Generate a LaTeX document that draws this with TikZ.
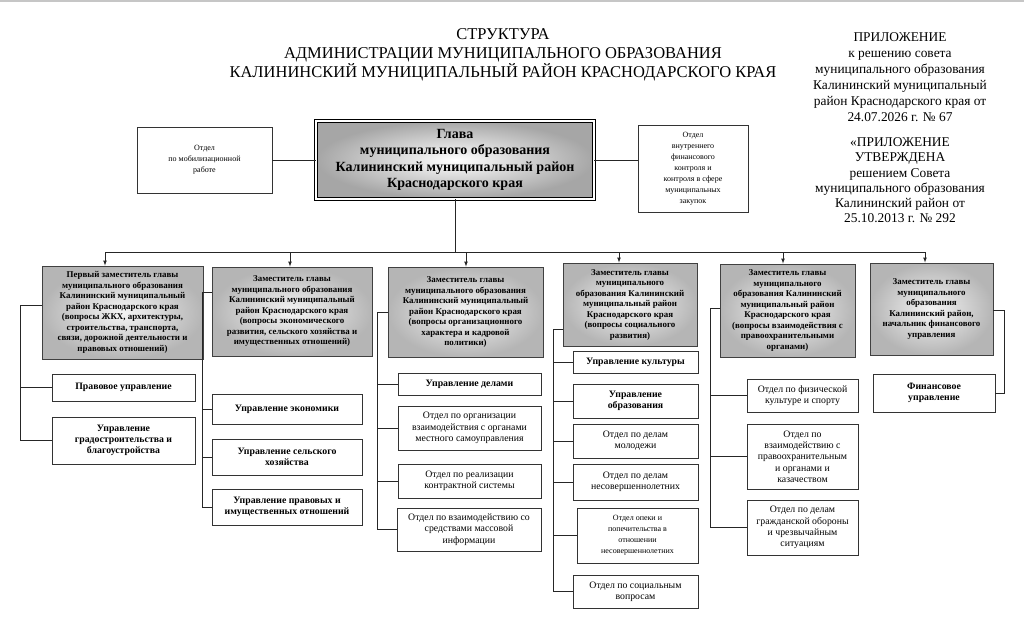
\documentclass[tikz,border=0pt]{standalone}
\usepackage{fontspec}
\setmainfont{Liberation Serif}
\usetikzlibrary{positioning}
\usetikzlibrary{shadows}

\begin{document}
\begin{tikzpicture}[x=1pt, y=-1pt,
  glava/.style={draw=black, line width=0.8pt, double=white, double distance=1.6pt, inner color=white, outer color=gray!70, align=center, font=\bfseries\fontsize{14}{16.5}\selectfont},
  zam/.style={draw=black!75, line width=0.9pt, inner color=gray!8, outer color=gray!58, drop shadow={shadow xshift=1.2pt, shadow yshift=-1.2pt, fill=gray!80, opacity=0.6}, align=center, font=\bfseries\fontsize{8.9}{10.5}\selectfont},
  upr/.style={draw=black!80, line width=0.8pt, fill=white, align=center, font=\bfseries\fontsize{9.8}{11.2}\selectfont},
  otd/.style={draw=black!80, line width=0.8pt, fill=white, align=center, font=\fontsize{9.8}{11.3}\selectfont},
  melk/.style={draw=black!80, line width=0.7pt, fill=white, align=center, font=\fontsize{8}{11}\selectfont},
  sz/.style 2 args={minimum width=#1pt, minimum height=#2pt, inner sep=1pt},
  link/.style={black!85, line width=0.7pt},
  strelka/.style={link, -latex}
]
\useasboundingbox (0,0) rectangle (1024,636);
\draw[gray!45, line width=2pt] (0,1) -- (1024,1);

% header
{
\node[anchor=north, align=center, font=\fontsize{16.5}{18.8}\selectfont] (zagolovok) at (503,25)
{СТРУКТУРА\\АДМИНИСТРАЦИИ МУНИЦИПАЛЬНОГО ОБРАЗОВАНИЯ\\КАЛИНИНСКИЙ МУНИЦИПАЛЬНЫЙ РАЙОН КРАСНОДАРСКОГО КРАЯ};

\node[anchor=north, align=center, font=\fontsize{13.4}{16}\selectfont] (prilozh) at (900,29)
{ПРИЛОЖЕНИЕ\\к решению совета\\муниципального образования\\Калининский муниципальный\\район Краснодарского края от\\24.07.2026 г. № 67};

\node[anchor=north, align=center, font=\fontsize{13.4}{15.3}\selectfont] (utverzh) at (900,134)
{«ПРИЛОЖЕНИЕ\\УТВЕРЖДЕНА\\решением Совета\\муниципального образования\\Калининский район от\\25.10.2013 г. № 292};
}

% top row
{
\node[melk, sz={135}{66}] (mob) at (204.5,160) {Отдел\\по мобилизационной\\работе};
\node[glava, sz={278}{78}] (glava) at (455,160)
{Глава\\муниципального образования\\Калининский муниципальный район\\Краснодарского края};
\node[melk, sz={110}{87}] (vnutr) at (693,168.5)
{Отдел\\внутреннего\\финансового\\контроля и\\контроля в сфере\\муниципальных\\закупок};

\draw[link] (mob) -- (glava);
\draw[link] (glava.east) -- (glava.east -| vnutr.west);
}

% deputies
{
\node[zam, sz={161}{93}] (dep1) at (122.5,312.5)
{Первый заместитель главы\\муниципального образования\\Калининский муниципальный\\район Краснодарского края\\(вопросы ЖКХ, архитектуры,\\строительства, транспорта,\\связи, дорожной деятельности и\\правовых отношений)};
\node[zam, sz={160}{89}] (dep2) at (292,311.5)
{Заместитель главы\\муниципального образования\\Калининский муниципальный\\район Краснодарского края\\(вопросы экономического\\развития, сельского хозяйства и\\имущественных отношений)};
\node[zam, sz={155}{90}] (dep3) at (465.5,312)
{Заместитель главы\\муниципального  образования\\Калининский муниципальный\\район Краснодарского края\\(вопросы организационного\\характера и кадровой\\политики)};
\node[zam, sz={134}{83}] (dep4) at (630,304.5)
{Заместитель главы\\муниципального\\образования Калининский\\муниципальный район\\Краснодарского края\\(вопросы социального\\развития)};
\node[zam, sz={135}{93}] (dep5) at (787.5,310.5)
{Заместитель главы\\муниципального\\образования Калининский\\муниципальный район\\Краснодарского края\\(вопросы взаимодействия с\\правоохранительными\\органами)};
\node[zam, sz={123}{92}] (dep6) at (931.5,309)
{Заместитель главы\\муниципального\\образования\\Калининский район,\\начальник финансового\\управления};
}

% bus
{
\coordinate (shina) at (455,252);
\coordinate (a1) at (105,252);
\coordinate (a2) at (290,252);
\coordinate (a3) at (466,252);
\coordinate (a4) at (619,252);
\coordinate (a5) at (783,252);
\coordinate (a6) at (925,252);

\draw[link] (glava.south) -- (shina);
\draw[link] (a1) -- (a6);
\draw[strelka] (a1) -- (a1 |- dep1.north);
\draw[strelka] (a2) -- (a2 |- dep2.north);
\draw[strelka] (a3) -- (a3 |- dep3.north);
\draw[strelka] (a4) -- (a4 |- dep4.north);
\draw[strelka] (a5) -- (a5 |- dep5.north);
\draw[strelka] (a6) -- (a6 |- dep6.north);
}

% column 1
{
\node[upr, sz={143}{27}] (pravo) at (123.5,387.5) {Правовое управление};
\node[upr, sz={143}{47}] (grad) at (123.5,440.5) {Управление\\градостроительства и\\благоустройства};

\coordinate (t1) at (20,305);
\draw[link] (t1 -| dep1.west) -- (t1) |- (pravo.west);
\draw[link] (t1) |- (grad.west);
}

% column 2
{
\node[upr, sz={150}{30}] (econ) at (287,409) {Управление экономики};
\node[upr, sz={150}{36}] (selhoz) at (287,457) {Управление сельского\\хозяйства};
\node[upr, sz={150}{36}] (imush) at (287,507) {Управление правовых и\\имущественных отношений};

\coordinate (t2) at (202,292);
\draw[link] (t2 -| dep2.west) -- (t2) |- (econ.west);
\draw[link] (t2) |- (selhoz.west);
\draw[link] (t2) |- (imush.west);
}

% column 3
{
\node[upr, sz={143}{22}] (dela) at (469.5,384) {Управление делами};
\node[otd, sz={143}{44}] (msu) at (469.5,428) {Отдел  по организации\\взаимодействия с органами\\местного самоуправления};
\node[otd, sz={143}{34}] (kontr) at (469.5,481) {Отдел  по реализации\\контрактной системы};
\node[otd, sz={144}{43}] (smi) at (469,529.5) {Отдел  по взаимодействию со\\средствами массовой\\информации};

\coordinate (t3) at (377,312);
\draw[link] (t3 -| dep3.west) -- (t3) |- (dela.west);
\draw[link] (t3) |- (msu.west);
\draw[link] (t3) |- (kontr.west);
\draw[link] (t3) |- (smi.west);
}

% column 4
{
\node[upr, sz={125}{22}] (kult) at (635.5,362) {Управление культуры};
\node[upr, sz={125}{34}] (obraz) at (635.5,401) {Управление\\образования};
\node[otd, sz={125}{34}] (molod) at (635.5,441) {Отдел  по делам\\молодежи};
\node[otd, sz={125}{36}] (nesov) at (635.5,482) {Отдел  по делам\\несовершеннолетних};
\node[melk, sz={121}{55}] (opeka) at (637.5,535.5) {Отдел опеки и\\попечительства  в\\отношении\\несовершеннолетних};
\node[otd, sz={125}{33}] (social) at (635.5,591.5) {Отдел  по социальным\\вопросам};

\coordinate (t4) at (553,329);
\draw[link] (t4 -| dep4.west) -- (t4) |- (kult.west);
\draw[link] (t4) |- (obraz.west);
\draw[link] (t4) |- (molod.west);
\draw[link] (t4) |- (nesov.west);
\draw[link] (t4) |- (opeka.west);
\draw[link] (t4) |- (social.west);
}

% column 5
{
\node[otd, sz={111}{33}] (fiz) at (802.5,395.5) {Отдел  по физической\\культуре  и спорту};
\node[otd, sz={111}{65}] (pravoohr) at (802.5,456.5) {Отдел  по\\взаимодействию с\\правоохранительным\\и органами и\\казачеством};
\node[otd, sz={111}{55}] (gochs) at (802.5,527.5) {Отдел  по делам\\гражданской обороны\\и чрезвычайным\\ситуациям};

\coordinate (t5) at (710,308);
\draw[link] (t5 -| dep5.west) -- (t5) |- (fiz.west);
\draw[link] (t5) |- (pravoohr.west);
\draw[link] (t5) |- (gochs.west);
}

% column 6
{
\node[upr, sz={122}{38}] (fin) at (934,393) {Финансовое\\управление};

\coordinate (t6) at (1004,310);
\draw[link] (t6 -| dep6.east) -- (t6) |- (fin.east);
}

\end{tikzpicture}
\end{document}
